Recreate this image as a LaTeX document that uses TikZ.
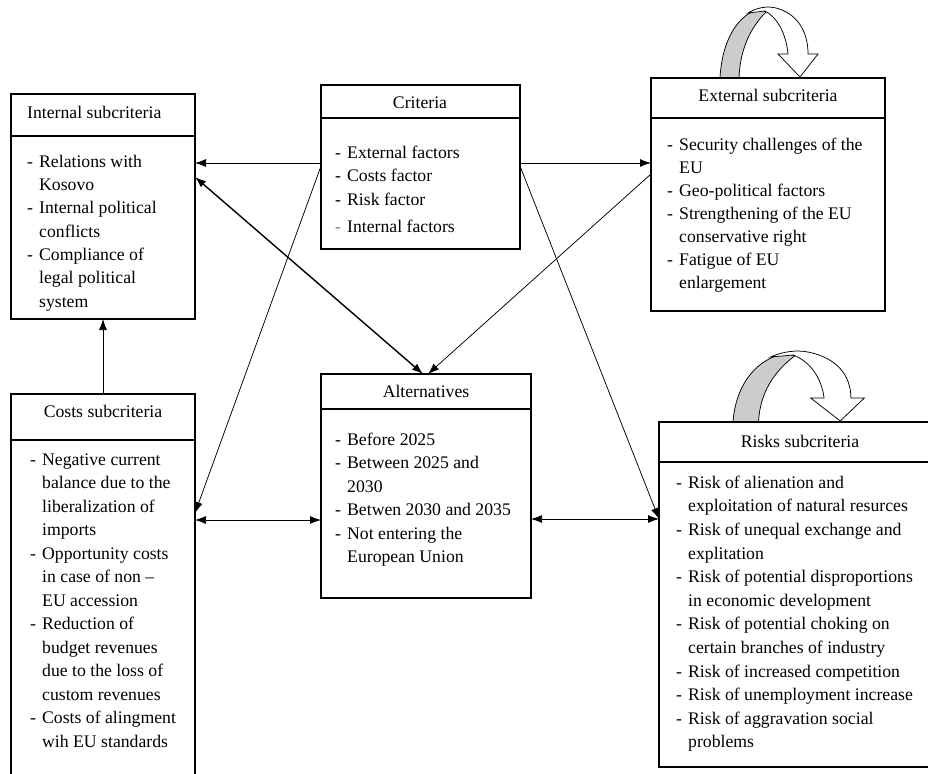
\documentclass[tikz,border=0pt]{standalone}
\usepackage{fontspec}
\setmainfont{Liberation Serif}
\usetikzlibrary{arrows.meta}
\newcommand{\itm}[1]{\makebox[12pt][l]{-}#1}
\newcommand{\itmg}[1]{\makebox[12pt][l]{\textcolor{gray}{-}}#1}
\newcommand{\cnt}[1]{\hspace*{12pt}#1}
\newcommand{\fst}{\rule{0pt}{14pt}}
\begin{document}
\begin{tikzpicture}[x=1pt,y=-1pt,
  box/.style={draw, line width=1.2pt, inner sep=0pt, outer sep=0pt, anchor=north west, rectangle},
  sep/.style={line width=1.2pt},
  head/.style={inner sep=0pt, font=\fontsize{17.7}{23.5}\selectfont},
  body/.style={inner sep=0pt, anchor=north west, align=left, font=\fontsize{17.7}{#1}\selectfont},
  body/.default=23.5pt,
  ln/.style={line width=0.75pt},
  tip/.tip={Latex[length=11pt,width=8pt]},
  arr/.style={ln, -tip},
  darr/.style={ln, tip-tip},
  curv/.style={ln, line join=miter}
]
\clip (0,0) rectangle (928,773);
\fill[white] (0,0) rectangle (928,773);

% curved arrow above External subcriteria
\filldraw[curv, fill=gray!40] (720,78) .. controls (722,40) and (738,14) .. (760,9) -- (766,12) .. controls (750,28) and (740,50) .. (739,78) -- cycle;
\filldraw[curv, fill=white] (748,13) .. controls (758,7) and (768,6) .. (776,8) .. controls (798,14) and (808,32) .. (808,54) -- (818,54) -- (800,77) -- (778,54) -- (788,54) .. controls (786,34) and (778,18) .. (765,11) -- cycle;

% curved arrow above Risks subcriteria
\filldraw[curv, fill=gray!40] (733,422) .. controls (735.7,384) and (757.1,358) .. (786.6,353) -- (794.6,356) .. controls (773.2,372) and (759.8,394) .. (758.5,422) -- cycle;
\filldraw[curv, fill=white] (770.5,357) .. controls (783.9,351) and (797.3,350) .. (808,352) .. controls (837.5,358) and (850.9,376) .. (850.9,398) -- (864.3,398) -- (840.2,421) -- (810.7,398) -- (824.1,398) .. controls (821.4,378) and (810.7,362) .. (793.3,355) -- cycle;

% boxes
\node[box, minimum width=184pt, minimum height=225pt] (intl) at (11,94) {};
\node[box, minimum width=199pt, minimum height=164pt] (crit) at (321,85) {};
\node[box, minimum width=234pt, minimum height=233pt] (ext) at (651,78) {};
\node[box, minimum width=210pt, minimum height=224pt] (alt) at (321,374) {};
\node[box, minimum width=184pt, minimum height=396pt] (costs) at (11,394) {};
\node[box, minimum width=286pt, minimum height=345pt] (risks) at (659,422) {};

\draw[sep] ([yshift=-42pt]intl.north west) -- ([yshift=-42pt]intl.north east);
\draw[sep] ([yshift=-33pt]crit.north west) -- ([yshift=-33pt]crit.north east);
\draw[sep] ([yshift=-40pt]ext.north west) -- ([yshift=-40pt]ext.north east);
\draw[sep] ([yshift=-35pt]alt.north west) -- ([yshift=-35pt]alt.north east);
\draw[sep] ([yshift=-46pt]costs.north west) -- ([yshift=-46pt]costs.north east);
\draw[sep] ([yshift=-40pt]risks.north west) -- ([yshift=-40pt]risks.north east);

% headers
\node[head, anchor=base west] (intlH) at (27,118) {Internal subcriteria};
\node[head, anchor=base] (critH) at (420,109) {Criteria};
\node[head, anchor=base] (extH) at (768,102) {External subcriteria};
\node[head, anchor=base] (altH) at (426,397) {Alternatives};
\node[head, anchor=base] (costsH) at (103,417) {Costs subcriteria};
\node[head, anchor=base] (risksH) at (800,447) {Risks subcriteria};

% bodies
\node[body=23.3pt] (intlB) at (27,153) {\fst\itm{Relations with}\\ \cnt{Kosovo}\\ \itm{Internal political}\\ \cnt{conflicts}\\ \itm{Compliance of}\\ \cnt{legal political}\\ \cnt{system}};
\node[body=23.5pt] (critB) at (335,144) {\fst\itm{External factors}\\ \itm{Costs factor}\\ \itm{Risk factor}\\[3.5pt] \itmg{Internal factors}};
\node[body=23pt] (extB) at (667,136) {\fst\itm{Security challenges of the}\\ \cnt{EU}\\ \itm{Geo-political factors}\\ \itm{Strengthening of the EU}\\ \cnt{conservative right}\\ \itm{Fatigue of EU}\\ \cnt{enlargement}};
\node[body=23.5pt] (altB) at (335,431) {\fst\itm{Before 2025}\\ \itm{Between 2025 and}\\ \cnt{2030}\\ \itm{Betwen 2030 and 2035}\\ \itm{Not entering the}\\ \cnt{European Union}};
\node[body=23.5pt] (costsB) at (30,451) {\fst\itm{Negative current}\\ \cnt{balance due to the}\\ \cnt{liberalization of}\\ \cnt{imports}\\ \itm{Opportunity costs}\\ \cnt{in case of non –}\\ \cnt{EU accession}\\ \itm{Reduction of}\\ \cnt{budget revenues}\\ \cnt{due to the loss of}\\ \cnt{custom revenues}\\ \itm{Costs of alingment}\\ \cnt{wih EU standards}};
\node[body=23.6pt] (risksB) at (676,474) {\fst\itm{Risk of alienation and}\\ \cnt{exploitation of natural resurces}\\ \itm{Risk of unequal exchange and}\\ \cnt{explitation}\\ \itm{Risk of potential disproportions}\\ \cnt{in economic development}\\ \itm{Risk of potential choking on}\\ \cnt{certain branches of industry}\\ \itm{Risk of increased competition}\\ \itm{Risk of unemployment increase}\\ \itm{Risk of aggravation social}\\ \cnt{problems}};

% connectors
\draw[arr] ([yshift=4pt]crit.west) -- ([yshift=4pt]crit.west -| intl.east);
\draw[arr] ([yshift=4pt]crit.east) -- ([yshift=4pt]crit.east -| ext.west);
\draw[darr, line width=1.4pt] ([yshift=29.5pt]intl.east) -- ([xshift=-3pt]alt.north);
\draw[arr] ([yshift=20.5pt]ext.west) -- ([xshift=2pt]alt.north);
\draw[arr] ([yshift=1pt]crit.west) -- ([yshift=-119pt]costs.north east);
\draw[arr] ([yshift=1pt]crit.east) -- ([yshift=-97pt]risks.north west);
\draw[darr] ([yshift=-126pt]costs.north east) -- ([yshift=-126pt]costs.north east -| alt.west);
\draw[darr] ([yshift=-97pt]risks.north west) -- ([yshift=-97pt]risks.north west -| alt.east);
\draw[arr] (costs.north) -- (costs.north |- intl.south);
\end{tikzpicture}
\end{document}
